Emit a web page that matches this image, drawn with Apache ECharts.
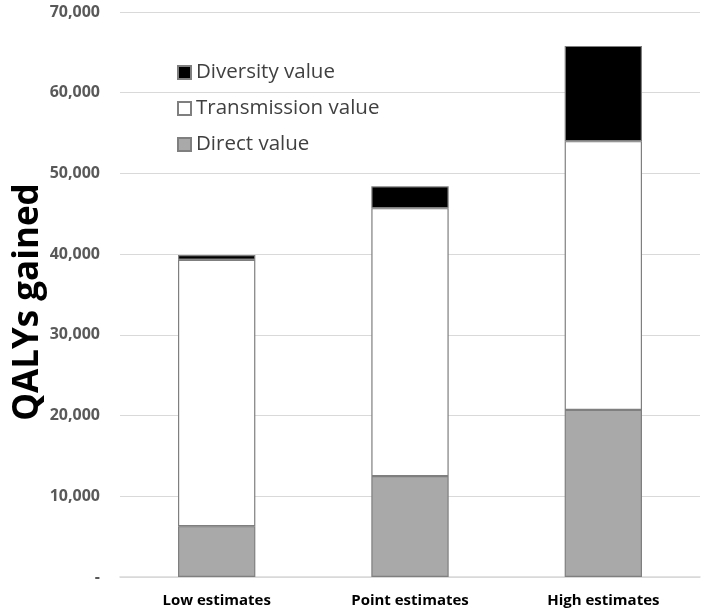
<!DOCTYPE html>
<html><head><meta charset="utf-8">
<script src="https://cdn.jsdelivr.net/npm/echarts@6/dist/echarts.min.js"></script>
<style>html,body{margin:0;padding:0;background:#fff}#c{width:705px;height:613px}</style>
</head><body><div id="c"></div>
<script>
var categories = ["Low estimates", "Point estimates", "High estimates"];
var directValue = [6300, 12500, 20700];
var transmissionValue = [33000, 33200, 33300];
var diversityValue = [600, 2700, 11800];
var yTicks = [0, 10000, 20000, 30000, 40000, 50000, 60000, 70000];
var yTitle = "QALYs gained";

var chart = echarts.init(document.getElementById('c'));
var fontFam = '"Open Sans", "Liberation Sans", sans-serif';
function barSeries(name, data, color) {
  return {
    name: name, type: 'bar', stack: 'total', data: data,
    barWidth: '40%',
    itemStyle: {color: color, borderColor: '#7f7f7f', borderWidth: 1.2},
    emphasis: {disabled: true}
  };
}
chart.setOption({
  animation: false,
  grid: {left: 120, right: 5, top: 12, bottom: 36, containLabel: false},
  legend: {
    data: ['Diversity value', 'Transmission value', 'Direct value'],
    orient: 'vertical', left: 172, top: 57, itemGap: 15,
    itemWidth: 13, itemHeight: 13, icon: 'rect',
    textStyle: {fontSize: 20.5, color: '#404040', fontFamily: fontFam}
  },
  graphic: [{
    type: 'text', x: 28, y: 302, rotation: Math.PI / 2,
    style: {text: yTitle, fontSize: 35, fontWeight: 'bold', fill: '#000', fontFamily: fontFam,
            align: 'center', verticalAlign: 'middle'}
  }],
  xAxis: {
    type: 'category', data: categories,
    axisLine: {lineStyle: {color: '#d9d9d9', width: 1.5}},
    axisTick: {show: false},
    axisLabel: {fontSize: 15, fontWeight: 'bold', color: '#000', margin: 16, fontFamily: fontFam}
  },
  yAxis: {
    type: 'value', min: yTicks[0], max: yTicks[yTicks.length - 1], interval: 10000,
    axisLine: {show: false}, axisTick: {show: false},
    splitLine: {lineStyle: {color: '#d9d9d9', width: 1.2}},
    axisLabel: {
      fontSize: 16, fontWeight: 'bold', color: '#595959', margin: 20, fontFamily: fontFam,
      formatter: function (v) { return v === 0 ? '-' : v.toLocaleString('en-US'); }
    }
  },
  series: [
    barSeries('Direct value', directValue, '#a9a9a9'),
    barSeries('Transmission value', transmissionValue, '#ffffff'),
    barSeries('Diversity value', diversityValue, '#000000')
  ]
});
</script></body></html>
